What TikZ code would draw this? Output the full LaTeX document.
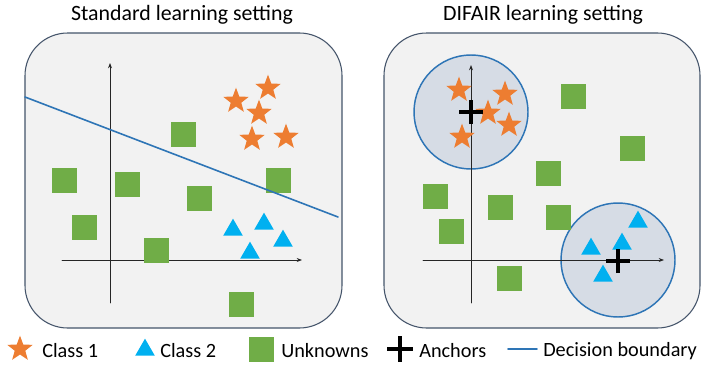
\documentclass[tikz,border=0pt]{standalone}
\usepackage{fontspec}
\setmainfont{Carlito}
\usetikzlibrary{shapes.geometric,arrows.meta}
\definecolor{starorange}{HTML}{ED7D31}
\definecolor{tricyan}{HTML}{00B0F0}
\definecolor{sqgreen}{HTML}{70AD47}
\definecolor{panelgray}{HTML}{F2F2F2}
\definecolor{panelborder}{HTML}{44546A}
\definecolor{ringblue}{HTML}{2E75B6}
\definecolor{ringfill}{HTML}{D6DCE5}
\begin{document}
\begin{tikzpicture}[x=0.75pt,y=-0.75pt,line cap=round,line join=round,
	cls1/.style={star,star points=5,star point ratio=2.4,fill=starorange,inner sep=0pt,minimum size=20pt},
	cls2/.style={regular polygon,regular polygon sides=3,fill=tricyan,inner sep=0pt,minimum size=17pt},
	unk/.style={rectangle,fill=sqgreen,inner sep=0pt,minimum size=18.75pt},
	plusmark/.style={line width=2.5pt,line cap=butt,black},
	panel/.style={draw=panelborder,fill=panelgray,rounded corners=32pt,line width=0.8pt},
	ring/.style={circle,draw=ringblue,fill=ringfill,line width=1.1pt,inner sep=0pt,minimum size=85.5pt},
	axis/.style={line width=0.6pt,black!85,-{Stealth[length=4pt,width=3pt]}},
	boundary/.style={line width=1.2pt,ringblue},
	title/.style={font=\fontsize{16.4}{19}\selectfont,inner sep=0pt},
	legtext/.style={font=\fontsize{15.2}{18}\selectfont,inner sep=0pt,anchor=west}]
			\useasboundingbox (0,0) rectangle (702,364);
			% left panel: standard setting
			\draw [panel] (25,33) rectangle (342,328);
			\node [title] (titleL) at (182,15) {Standard learning setting};
			\draw [axis] (110,303) -- (110,63);
			\draw [axis] (62,260) -- (302,260);
			\node [unk] (uL1) at (183,134) {};
			\node [unk] (uL2) at (64,180) {};
			\node [unk] (uL3) at (127,184) {};
			\node [unk] (uL4) at (199,198) {};
			\node [unk] (uL5) at (278,180) {};
			\node [unk] (uL6) at (84,227) {};
			\node [unk] (uL7) at (156,250) {};
			\node [unk] (uL8) at (241,304) {};
			\node [cls1] (sL1) at (236,101) {};
			\node [cls1] (sL2) at (268,88) {};
			\node [cls1] (sL3) at (259,113) {};
			\node [cls1] (sL4) at (252,139) {};
			\node [cls1] (sL5) at (286,137) {};
			\node [cls2] (tL1) at (233,230) {};
			\node [cls2] (tL2) at (264,224) {};
			\node [cls2] (tL3) at (283,241) {};
			\node [cls2] (tL4) at (250,253) {};
			\draw [boundary] (25,97) -- (338,217);
			% right panel: DIFAIR setting
			\draw [panel] (384,33) rectangle (700,328);
			\node [title] (titleR) at (543,15) {DIFAIR learning setting};
			\node [ring] (ring1) at (471,112) {};
			\node [ring] (ring2) at (618,260) {};
			\draw [axis] (471,303) -- (471,65);
			\draw [axis] (423,260) -- (664,260);
			\node [unk] (uR1) at (573,96) {};
			\node [unk] (uR2) at (632,148) {};
			\node [unk] (uR3) at (548,173) {};
			\node [unk] (uR4) at (435,196) {};
			\node [unk] (uR5) at (500,207) {};
			\node [unk] (uR6) at (558,217) {};
			\node [unk] (uR7) at (451,231) {};
			\node [unk] (uR8) at (509,278) {};
			\node [cls1] (sR1) at (459,90) {};
			\node [cls1] (sR2) at (505,94) {};
			\node [cls1] (sR3) at (488,113) {};
			\node [cls1] (sR4) at (509,125) {};
			\node [cls1] (sR5) at (462,137) {};
			\node [cls2] (tR1) at (638,222) {};
			\node [cls2] (tR2) at (622,244) {};
			\node [cls2] (tR3) at (591,249) {};
			\node [cls2] (tR4) at (603,276) {};
			\coordinate (anc1) at (471,112);
			\coordinate (anc2) at (618,261);
			\draw [plusmark] ([xshift=-9pt]anc1) -- ([xshift=9pt]anc1) ([yshift=-9pt]anc1) -- ([yshift=9pt]anc1);
			\draw [plusmark] ([xshift=-9pt]anc2) -- ([xshift=9pt]anc2) ([yshift=-9pt]anc2) -- ([yshift=9pt]anc2);
			% legend
			\node [cls1] (legS) at (20,349) {};
			\node [legtext] (legSt) at (42,351) {Class 1};
			\node [cls2] (legT) at (145,350) {};
			\node [legtext] (legTt) at (160,351) {Class 2};
			\node [unk] (legU) at (261,349) {};
			\node [legtext] (legUt) at (281,351) {Unknowns};
			\coordinate (legA) at (400,349);
			\draw [plusmark] ([xshift=-9.5pt]legA) -- ([xshift=9.5pt]legA) ([yshift=-9.5pt]legA) -- ([yshift=9.5pt]legA);
			\node [legtext] (legAt) at (419,351) {Anchors};
			\coordinate (legB1) at (508,349);
			\coordinate (legB2) at (537,349);
			\draw [boundary] (legB1) -- (legB2);
			\node [legtext] (legBt) at (543,351) {Decision boundary};
		\end{tikzpicture}
\end{document}
